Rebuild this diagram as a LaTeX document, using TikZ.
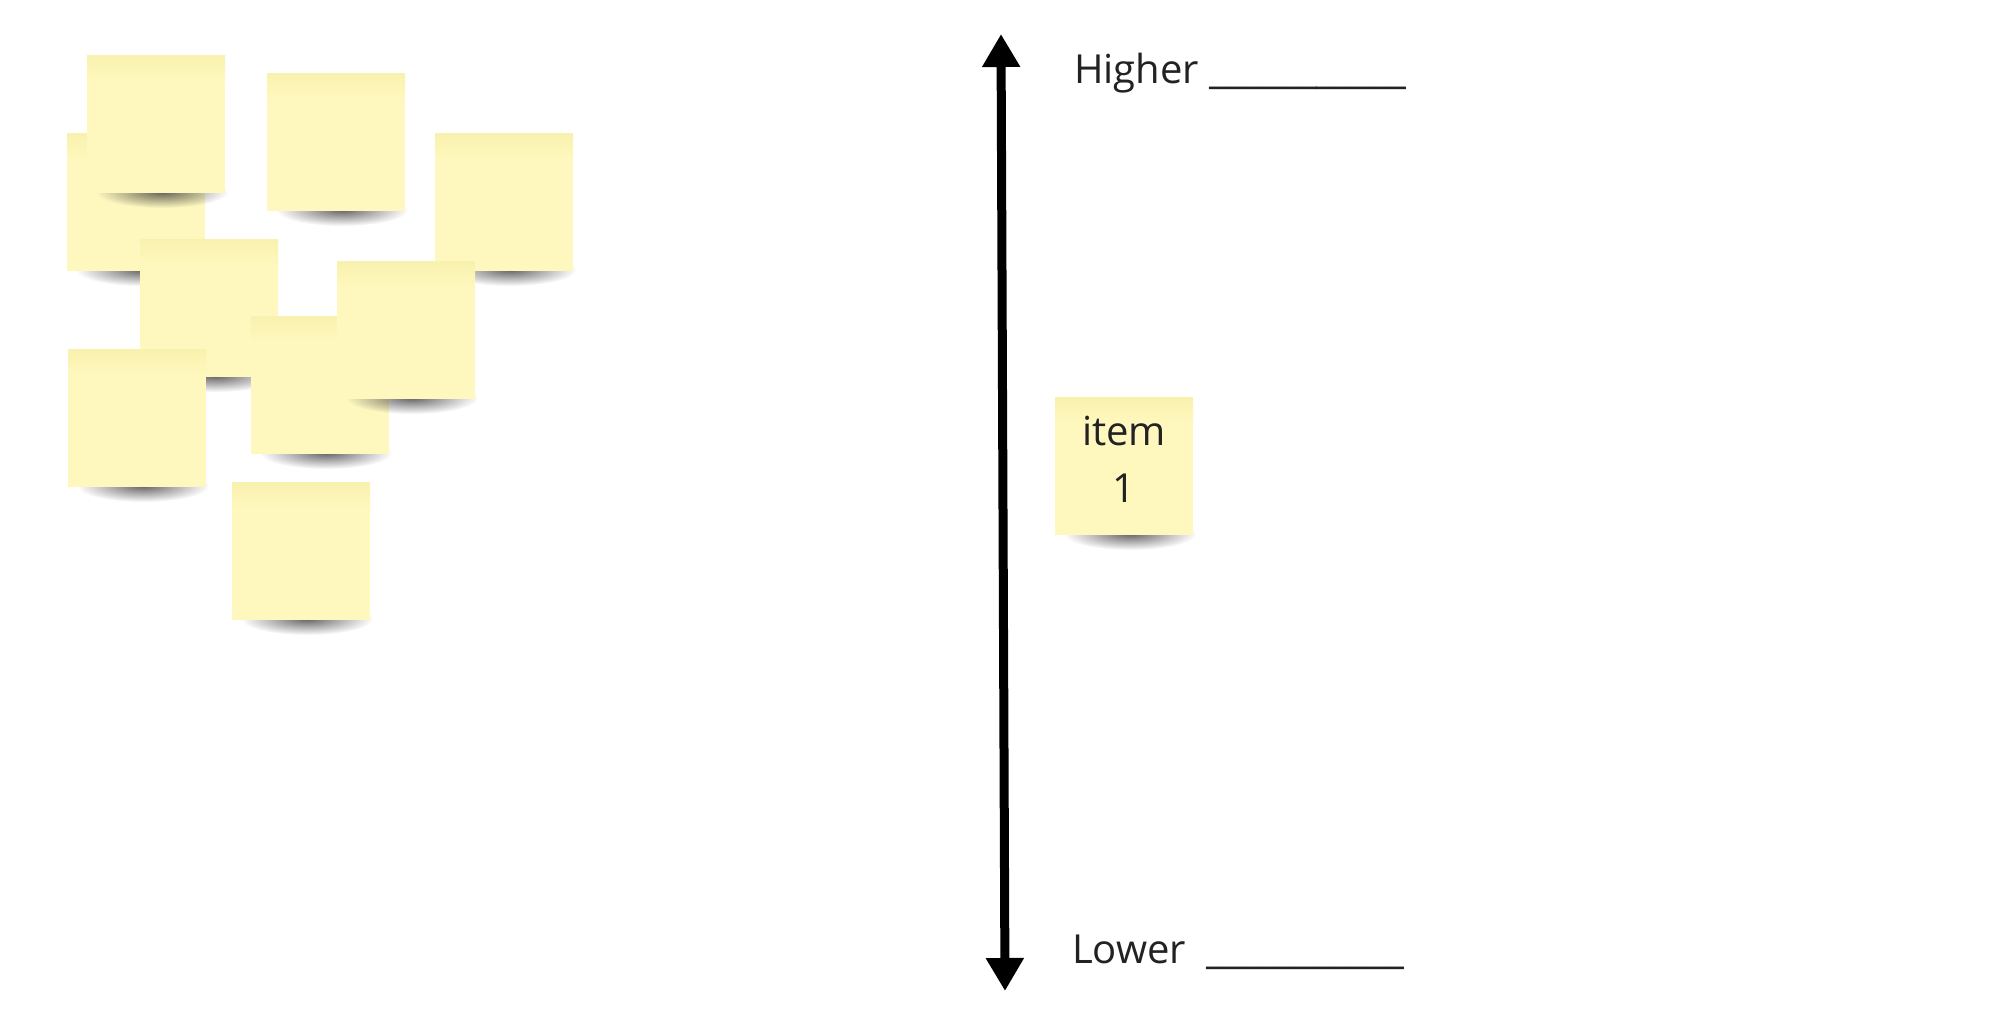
\documentclass[tikz,border=0pt]{standalone}
\usepackage{fontspec}
\setmainfont{Open Sans}
\usetikzlibrary{arrows.meta,fadings}
\definecolor{notebody}{RGB}{254,248,190}
\definecolor{notetop}{RGB}{249,241,174}
\definecolor{inktext}{RGB}{34,34,34}
\tikzfading[name=softshadow, inner color=transparent!20, outer color=transparent!100]
\tikzset{
  sticky/.style={rectangle, fill=notebody, minimum width=138pt, minimum height=138pt, inner sep=0pt, outer sep=0pt},
  axislabel/.style={font=\fontsize{40}{48}\selectfont, text=inktext, inner sep=0pt},
  notetext/.style={font=\fontsize{40}{57}\selectfont, text=inktext, align=center, inner sep=0pt},
  axisarrow/.style={line width=9pt, {Triangle[width=36pt,length=33pt]}-{Triangle[width=36pt,length=33pt]}}
}
\newcommand\stickynote[3]{%
  \fill[black!75, path fading=softshadow] (#2+6,#3+68) ellipse [x radius=66, y radius=16];
  \node[sticky] (#1) at (#2,#3) {};
  \shade[top color=notetop, bottom color=notebody] (#1.north west) rectangle ([yshift=-26pt]#1.north east);
}
\begin{document}
\begin{tikzpicture}[x=1pt,y=-1pt]
\useasboundingbox (0,0) rectangle (1999,1009);
\fill[white] (0,0) rectangle (1999,1009);
% sticky notes pile
\stickynote{nB}{136}{202}
\stickynote{nA}{156}{124}
\stickynote{nC}{336}{142}
\stickynote{nD}{504}{202}
\stickynote{nE}{209}{308}
\stickynote{nF}{320}{385}
\stickynote{nG}{406}{330}
\stickynote{nH}{137}{418}
\stickynote{nI}{301}{551}
% axis
\coordinate (atop) at (1001,34);
\coordinate (abot) at (1005,991);
\draw[axisarrow] (atop) -- (abot);
\node[axislabel, anchor=base west] (hi) at (1074,83) {Higher \_\_\_\_\_\_\_\_\_\_\_};
\node[axislabel, anchor=base west] (lo) at (1072,963) {Lower\ \ \_\_\_\_\_\_\_\_\_\_\_};
% item 1
\stickynote{item1}{1124}{466}
\node[notetext] (item1text) at (1124,459) {item\\1};
\end{tikzpicture}
\end{document}
